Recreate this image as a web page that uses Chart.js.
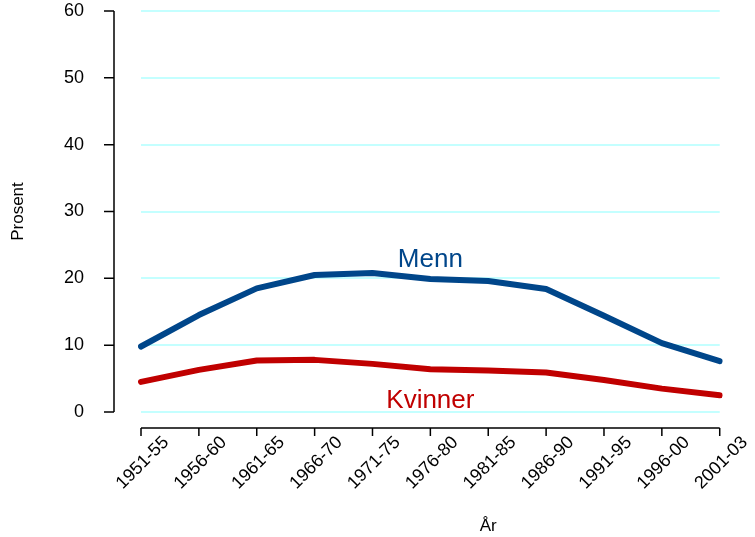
<!DOCTYPE html>
<html><head><meta charset="utf-8">
<script src="https://cdn.jsdelivr.net/npm/chart.js@4/dist/chart.umd.min.js"></script>
<style>html,body{margin:0;padding:0;background:#fff;} #wrap{width:755px;height:537px;}</style>
</head><body><div id="wrap"><canvas id="c" width="755" height="537"></canvas></div>
<script>
const categories = ['1951-55','1956-60','1961-65','1966-70','1971-75','1976-80','1981-85','1986-90','1991-95','1996-00','2001-03'];
const menn = [9.8,14.5,18.5,20.5,20.8,19.9,19.6,18.4,14.4,10.3,7.6];
const kvinner = [4.5,6.3,7.7,7.8,7.2,6.4,6.2,5.9,4.8,3.5,2.5];
const yTicks = [0,10,20,30,40,50,60];
const seriesNames = ['Menn','Kvinner'];
const yTitle = 'Prosent';
const xTitle = 'År';

const FONT = 'Liberation Sans, Arial, sans-serif';
const MENN_COLOR = '#00468a';
const KV_COLOR = '#c00000';

const axesPlugin = {
  id: 'rAxes',
  afterDraw(chart) {
    const ctx = chart.ctx, xs = chart.scales.x, ys = chart.scales.y, ca = chart.chartArea;
    ctx.save();
    ctx.strokeStyle = '#000';
    ctx.lineWidth = 1.5;
    // y axis
    const ax = ca.left - 27;
    ctx.beginPath();
    ctx.moveTo(ax, ys.getPixelForValue(yTicks[0]));
    ctx.lineTo(ax, ys.getPixelForValue(yTicks[yTicks.length-1]));
    yTicks.forEach(v => { const p = ys.getPixelForValue(v); ctx.moveTo(ax, p); ctx.lineTo(ax-10, p); });
    ctx.stroke();
    // x axis
    const ay = ca.bottom + 16;
    ctx.beginPath();
    ctx.moveTo(xs.getPixelForValue(0), ay);
    ctx.lineTo(xs.getPixelForValue(categories.length-1), ay);
    categories.forEach((c,i) => { const p = xs.getPixelForValue(i); ctx.moveTo(p, ay); ctx.lineTo(p, ay+8); });
    ctx.stroke();
    // x title
    ctx.fillStyle = '#000';
    ctx.font = '17px ' + FONT;
    ctx.textAlign = 'center';
    ctx.textBaseline = 'alphabetic';
    ctx.fillText(xTitle, ca.left + (ca.right-ca.left)*0.6, ca.bottom + 119);
    // series labels
    ctx.font = '26px ' + FONT;
    ctx.fillStyle = MENN_COLOR;
    ctx.fillText(seriesNames[0], xs.getPixelForValue(5), ys.getPixelForValue(21.7));
    ctx.fillStyle = KV_COLOR;
    ctx.fillText(seriesNames[1], xs.getPixelForValue(5), ys.getPixelForValue(0.6));
    ctx.restore();
  }
};

new Chart(document.getElementById('c'), {
  type: 'line',
  data: {
    labels: categories,
    datasets: [
      { label: seriesNames[0], data: menn, borderColor: MENN_COLOR, borderWidth: 6, pointRadius: 0, tension: 0, borderCapStyle: 'round', borderJoinStyle: 'round', fill: false },
      { label: seriesNames[1], data: kvinner, borderColor: KV_COLOR, borderWidth: 6, pointRadius: 0, tension: 0, borderCapStyle: 'round', borderJoinStyle: 'round', fill: false }
    ]
  },
  options: {
    responsive: false, animation: false, devicePixelRatio: 1,
    layout: { padding: { left: 0, right: 34, top: 11, bottom: 0 } },
    plugins: { legend: { display: false }, tooltip: { enabled: false } },
    scales: {
      x: {
        type: 'category', offset: false,
        grid: { display: false, drawTicks: false }, border: { display: false },
        ticks: { autoSkip: false, minRotation: 45, maxRotation: 45, padding: 20, labelOffset: 25, color: '#000', font: { family: FONT, size: 18 } },
        afterFit(s) { s.height = 125; }
      },
      y: {
        min: 0, max: 60,
        border: { display: false },
        grid: { color: '#c4ffff', lineWidth: 2, drawTicks: true, tickLength: 57, tickColor: 'rgba(0,0,0,0)' },
        ticks: { stepSize: 10, padding: 0, color: '#000', font: { family: FONT, size: 18 } },
        title: { display: true, text: yTitle, color: '#000', font: { family: FONT, size: 17 }, padding: { top: 8, bottom: 0 } },
        afterFit(s) { s.width = 141; }
      }
    }
  },
  plugins: [axesPlugin]
});
</script>
</body></html>
